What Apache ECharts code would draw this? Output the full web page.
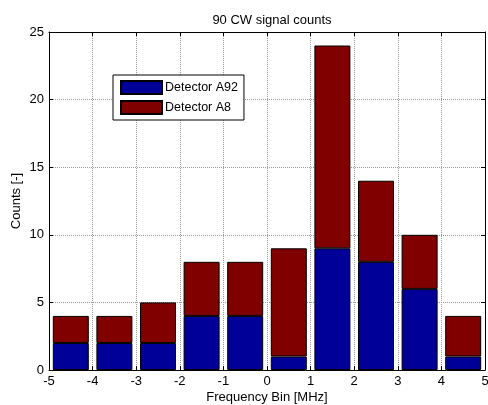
<!DOCTYPE html>
<html><head><meta charset="utf-8">
<script src="https://cdn.jsdelivr.net/npm/echarts@6/dist/echarts.min.js"></script>
<style>html,body{margin:0;padding:0;background:#fff}#c{width:488px;height:405px}</style>
</head><body><div id="c"></div>
<script>
const binCenters = [-4.5,-3.5,-2.5,-1.5,-0.5,0.5,1.5,2.5,3.5,4.5];
const detectorA92 = [2,2,2,4,4,1,9,8,6,1];
const detectorA8 = [2,2,3,4,4,8,15,6,4,3];
const xTicks = [-5,-4,-3,-2,-1,0,1,2,3,4,5];
const yTicks = [0,5,10,15,20,25];

const chart = echarts.init(document.getElementById('c'));
const font = 'Liberation Sans, Arial, Helvetica, sans-serif';
const gridLine = {show:true, lineStyle:{color:'#999', type:[1,1], width:1}};
chart.setOption({
  animation:false,
  title:{text:'90 CW signal counts', left:267, textAlign:'center', top:9, textStyle:{fontSize:13, fontWeight:'normal', color:'#000', fontFamily:font}},
  legend:{
    left:113, top:75, orient:'vertical', itemWidth:41, itemHeight:13, itemGap:5,
    padding:[5,6,5,7], borderColor:'#000', borderWidth:1, backgroundColor:'#fff',
    textStyle:{fontSize:12.5, color:'#000', fontFamily:font, padding:[0,0,0,-2]},
    data:['Detector A92','Detector A8'], icon:'rect'
  },
  grid:{left:49, right:3, top:32, bottom:35, containLabel:false, outerBoundsMode:'none'},
  xAxis:[{
    type:'value', min:-5, max:5, interval:1,
    axisLine:{onZero:false, lineStyle:{color:'#000'}},
    axisTick:{inside:true, length:4, lineStyle:{color:'#000'}},
    axisLabel:{color:'#000', fontSize:13, fontFamily:font, margin:5, formatter:v=>xTicks.includes(v)?String(v):''},
    splitLine:gridLine,
    name:'Frequency Bin [MHz]', nameLocation:'middle', nameGap:21, nameMoveOverlap:false,
    nameTextStyle:{color:'#000', fontSize:13, fontFamily:font}
  },{
    type:'value', min:-5, max:5, interval:1, position:'top',
    axisLine:{onZero:false, lineStyle:{color:'#000'}},
    axisTick:{inside:true, length:4, lineStyle:{color:'#000'}},
    axisLabel:{show:false}, splitLine:{show:false}
  },{
    type:'category', data:binCenters.map(String), boundaryGap:true, show:false
  }],
  yAxis:[{
    type:'value', min:0, max:25, interval:5,
    axisLine:{show:true, onZero:false, lineStyle:{color:'#000'}},
    axisTick:{show:true, inside:true, length:4, lineStyle:{color:'#000'}},
    axisLabel:{color:'#000', fontSize:13, fontFamily:font, margin:5, formatter:v=>yTicks.includes(v)?String(v):''},
    splitLine:gridLine,
    name:'Counts [-]', nameLocation:'middle', nameGap:26, nameMoveOverlap:false,
    nameTextStyle:{color:'#000', fontSize:13, fontFamily:font}
  },{
    type:'value', min:0, max:25, interval:5, position:'right',
    axisLine:{show:true, onZero:false, lineStyle:{color:'#000'}},
    axisTick:{show:true, inside:true, length:4, lineStyle:{color:'#000'}},
    axisLabel:{show:false}, splitLine:{show:false}
  }],
  series:[
    {name:'Detector A92', type:'bar', stack:'s', barWidth:36, xAxisIndex:2, yAxisIndex:0,
     itemStyle:{color:'#000099', borderColor:'#000', borderWidth:1},
     data:detectorA92},
    {name:'Detector A8', type:'bar', stack:'s', barWidth:36, xAxisIndex:2, yAxisIndex:0,
     itemStyle:{color:'#800000', borderColor:'#000', borderWidth:1},
     data:detectorA8}
  ]
});
</script></body></html>
